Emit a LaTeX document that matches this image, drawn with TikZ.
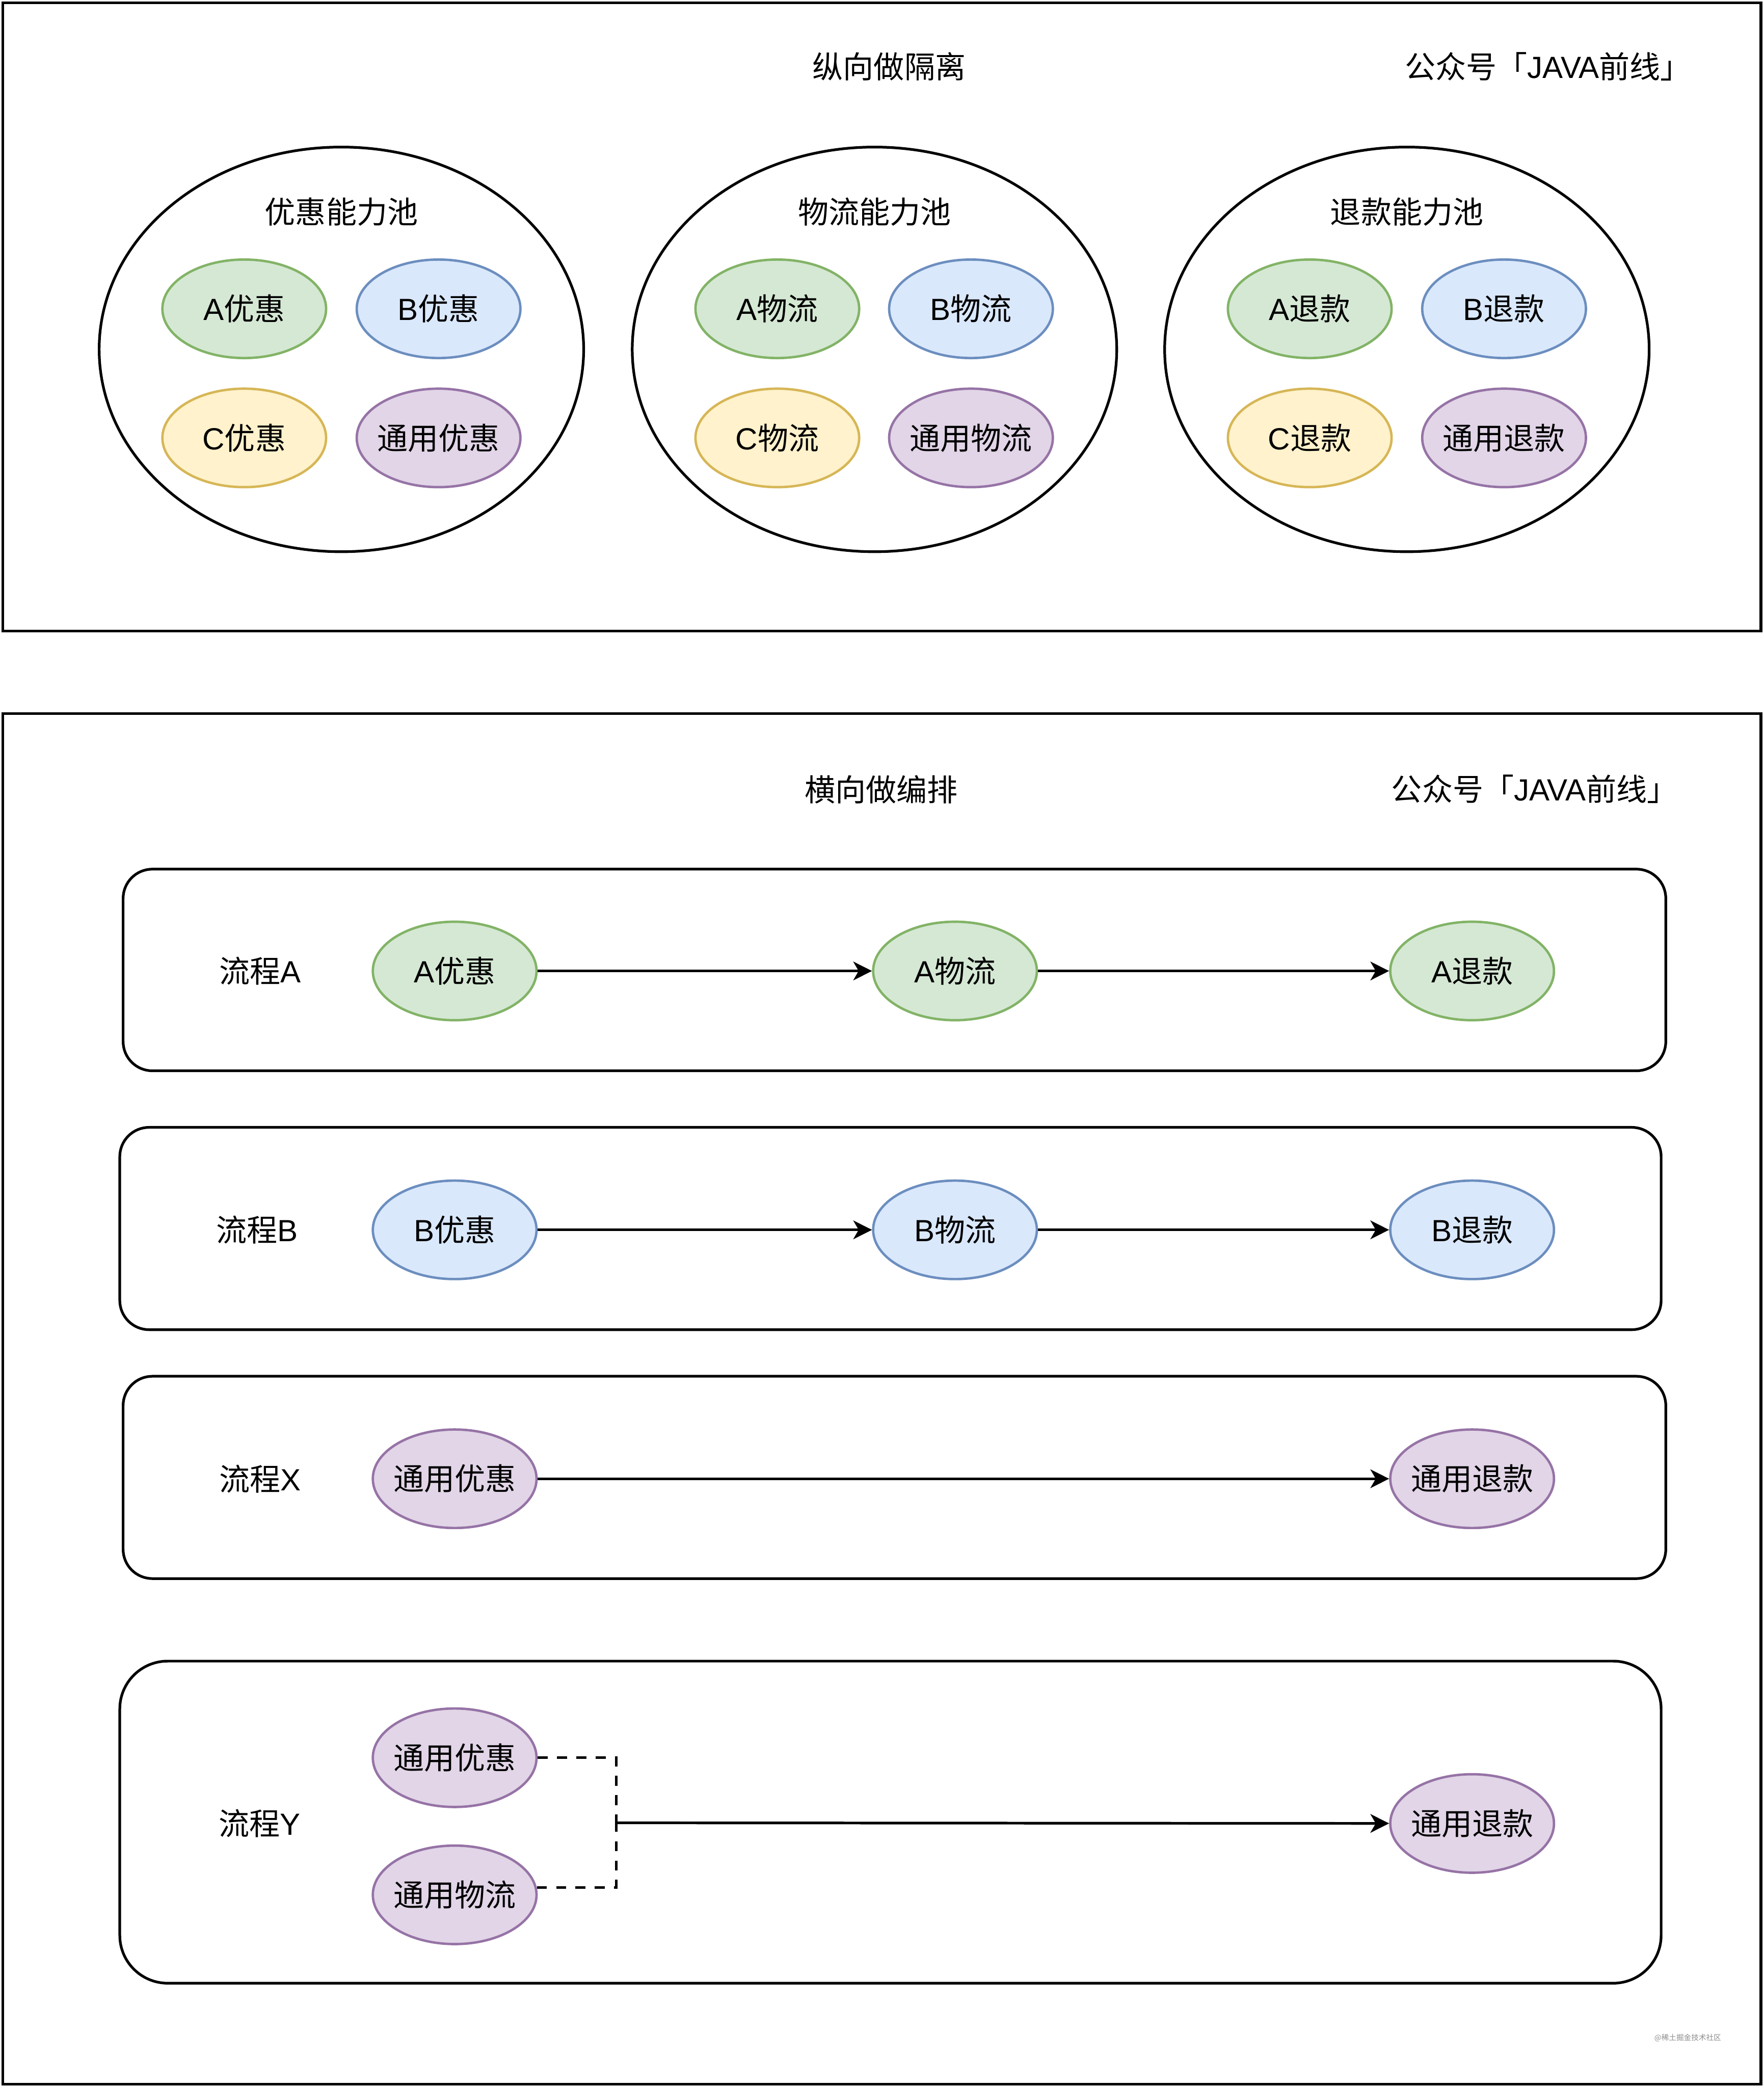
\documentclass[tikz,border=0pt]{standalone}
\usepackage{fontspec}
\setmainfont{Noto Sans CJK SC}
\newfontfamily\latinfont{Liberation Sans}
\newcommand\latn[1]{{\latinfont #1}}
\usetikzlibrary{shapes.geometric,arrows.meta}

\definecolor{gF}{HTML}{D5E8D4}\definecolor{gS}{HTML}{82B366}
\definecolor{bF}{HTML}{DAE8FC}\definecolor{bS}{HTML}{6C8EBF}
\definecolor{yF}{HTML}{FFF2CC}\definecolor{yS}{HTML}{D6B656}
\definecolor{pF}{HTML}{E1D5E7}\definecolor{pS}{HTML}{9673A6}

\tikzset{
  txt/.style={inner sep=0pt, font=\fontsize{23}{27}\selectfont},
  frame/.style={draw, rectangle, line width=2pt, inner sep=0pt},
  flowbox/.style={draw, rectangle, line width=2pt, rounded corners=22pt, inner sep=0pt},
  pool/.style={draw, ellipse, line width=2pt, minimum width=364pt, minimum height=304pt, inner sep=0pt},
  capsule/.style={ellipse, line width=1.8pt, minimum width=123pt, minimum height=74pt,
              inner sep=-10pt, font=\fontsize{23}{27}\selectfont},
  capg/.style={capsule, draw=gS, fill=gF},
  capb/.style={capsule, draw=bS, fill=bF},
  capy/.style={capsule, draw=yS, fill=yF},
  capp/.style={capsule, draw=pS, fill=pF},
  flow/.style={line width=2pt, -{Stealth[length=14pt, width=14pt, inset=4pt]}},
  link/.style={line width=2pt, dash pattern=on 7.5pt off 7pt},
}

\begin{document}
\begin{tikzpicture}[x=1pt, y=-1pt]
\useasboundingbox (0,0) rectangle (1325,1568);

% ---------- vertical isolation: capability pools ----------
\node[frame, minimum width=1321pt, minimum height=472pt] (topframe) at (662.5,238) {};
\node[txt] (toptitle) at (668,50) {纵向做隔离};
\node[txt] (topsign) at (1163,50) {公众号「\latn{JAVA}前线」};

\node[pool] (poolyh) at (256.5,262.5) {};
\node[pool] (poolwl) at (657,262.5) {};
\node[pool] (poolrk) at (1057,262.5) {};
\node[txt] (poolyht) at (256.5,159) {优惠能力池};
\node[txt] (poolwlt) at (657,159) {物流能力池};
\node[txt] (poolrkt) at (1057,159) {退款能力池};

\node[capg] (pyha) at (183.5,232) {\latn{A}优惠};
\node[capb] (pyhb) at (329.5,232) {\latn{B}优惠};
\node[capy] (pyhc) at (183.5,329) {\latn{C}优惠};
\node[capp] (pyhg) at (329.5,329) {通用优惠};

\node[capg] (pwla) at (584,232) {\latn{A}物流};
\node[capb] (pwlb) at (729.5,232) {\latn{B}物流};
\node[capy] (pwlc) at (584,329) {\latn{C}物流};
\node[capp] (pwlg) at (729.5,329) {通用物流};

\node[capg] (prka) at (984,232) {\latn{A}退款};
\node[capb] (prkb) at (1130,232) {\latn{B}退款};
\node[capy] (prkc) at (984,329) {\latn{C}退款};
\node[capp] (prkg) at (1130,329) {通用退款};

% ---------- horizontal orchestration: flows ----------
\node[frame, minimum width=1321pt, minimum height=1030pt] (botframe) at (662.5,1051) {};
\node[txt] (bottitle) at (662,593) {横向做编排};
\node[txt] (botsign) at (1153,593) {公众号「\latn{JAVA}前线」};

% flow A
\node[flowbox, minimum width=1159pt, minimum height=151.5pt] (boxa) at (672,728.75) {};
\node[txt] (labela) at (195.5,729.5) {流程\latn{A}};
\node[capg] (ayh) at (341.6,729.5) {\latn{A}优惠};
\node[capg] (awl) at (717.5,729.5) {\latn{A}物流};
\node[capg] (ark) at (1106,729.5) {\latn{A}退款};
\draw[flow] (ayh) -- (awl);
\draw[flow] (awl) -- (ark);

% flow B
\node[flowbox, minimum width=1158pt, minimum height=152pt] (boxb) at (669,923) {};
\node[txt] (labelb) at (193,924) {流程\latn{B}};
\node[capb] (byh) at (341.6,924) {\latn{B}优惠};
\node[capb] (bwl) at (717.5,924) {\latn{B}物流};
\node[capb] (brk) at (1106,924) {\latn{B}退款};
\draw[flow] (byh) -- (bwl);
\draw[flow] (bwl) -- (brk);

% flow X
\node[flowbox, minimum width=1159pt, minimum height=152pt] (boxx) at (672,1110) {};
\node[txt] (labelx) at (195.5,1111) {流程\latn{X}};
\node[capp] (xyh) at (341.6,1111) {通用优惠};
\node[capp] (xrk) at (1106,1111) {通用退款};
\draw[flow] (xyh) -- (xrk);

% flow Y
\node[flowbox, rounded corners=36pt, minimum width=1158pt, minimum height=242pt] (boxy) at (669,1369) {};
\node[txt] (labely) at (195,1370) {流程\latn{Y}};
\node[capp] (yyh) at (341.6,1320.6) {通用优惠};
\node[capp] (ywl) at (341.6,1423.6) {通用物流};
\node[capp] (yrk) at (1106,1370) {通用退款};
\coordinate (yjoin) at (463,1369.5);
\draw[link] (yyh.east) -| (yjoin);
\draw[link] (ywl.5) -| (yjoin);
\draw[flow] (yjoin) -- (yrk);

\node[inner sep=0pt, text=black!45, font=\fontsize{5.6}{6}\selectfont] (mark) at (1268,1531) {@稀土掘金技术社区};
\end{tikzpicture}
\end{document}
